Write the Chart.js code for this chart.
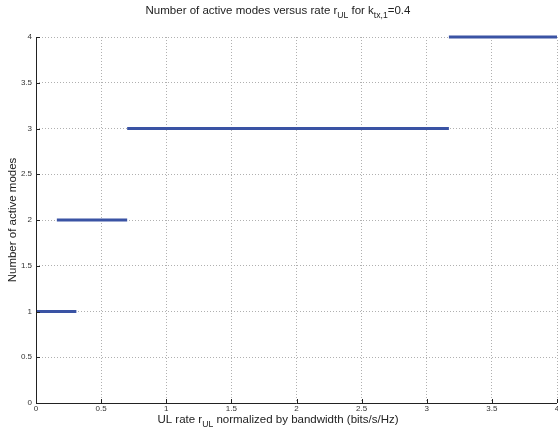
<!DOCTYPE html>
<html><head><meta charset="utf-8">
<script src="https://cdn.jsdelivr.net/npm/chart.js@4"></script>
<style>html,body{margin:0;padding:0;background:#fff}#wrap{width:558px;height:435px}</style>
</head><body><div id="wrap"><canvas id="c" width="558" height="435"></canvas></div>
<script>
// Data
const modes    = [1, 2, 3, 4];
const segStart = [0, 0.16, 0.70, 3.17];
const segEnd   = [0.31, 0.70, 3.17, 4.0];
const xTicks = ['0','0.5','1','1.5','2','2.5','3','3.5','4'];
const yTicks = ['0','0.5','1','1.5','2','2.5','3','3.5','4'];

const FONT = '"Liberation Sans", Arial, Helvetica, sans-serif';
const datasets = modes.map((m, i) => ({
  data: [{x: segStart[i], y: m}, {x: segEnd[i], y: m}],
  borderColor: '#3a53a4', borderWidth: 3, pointRadius: 0, fill: false,
  borderCapStyle: 'butt', clip: false
}));

function drawSub(ctx, parts, cx, baseline, size) {
  let total = 0;
  parts.forEach(p => { ctx.font = (p[1] ? size*0.75 : size) + 'px ' + FONT; total += ctx.measureText(p[0]).width; });
  let x = cx - total/2;
  ctx.textAlign = 'left'; ctx.textBaseline = 'alphabetic';
  parts.forEach(p => {
    ctx.font = (p[1] ? size*0.75 : size) + 'px ' + FONT;
    ctx.fillText(p[0], x, baseline + (p[1] ? 4 : 0));
    x += ctx.measureText(p[0]).width;
  });
}

const decor = {
  id: 'decor',
  afterDraw(chart) {
    const ctx = chart.ctx, a = chart.chartArea;
    const xs = chart.scales.x, ys = chart.scales.y;
    ctx.save();
    ctx.strokeStyle = '#222'; ctx.lineWidth = 1;
    ctx.beginPath();
    ctx.moveTo(a.left + 0.5, a.top); ctx.lineTo(a.left + 0.5, a.bottom + 0.5);
    ctx.lineTo(a.right, a.bottom + 0.5);
    xs.ticks.forEach(t => { const px = Math.round(xs.getPixelForValue(t.value)) + 0.5; ctx.moveTo(px, a.bottom); ctx.lineTo(px, a.bottom - 4); });
    ys.ticks.forEach(t => { const py = Math.round(ys.getPixelForValue(t.value)) + 0.5; ctx.moveTo(a.left, py); ctx.lineTo(a.left + 4, py); });
    ctx.stroke();
    ctx.fillStyle = '#222';
    const cx = 278;
    drawSub(ctx, [['Number of active modes versus rate r', false], ['UL', true], [' for k', false], ['tx,1', true], ['=0.4', false]], cx, 14, 11.5);
    drawSub(ctx, [['UL rate r', false], ['UL', true], [' normalized by bandwidth (bits/s/Hz)', false]], cx, 423, 11.5);
    ctx.restore();
  }
};

new Chart(document.getElementById('c'), {
  type: 'line',
  data: { datasets },
  options: {
    responsive: false, animation: false, devicePixelRatio: 1,
    layout: { padding: { top: 37, right: 1, left: 0, bottom: 0 } },
    plugins: { legend: { display: false }, tooltip: { enabled: false } },
    scales: {
      x: {
        type: 'linear', min: 0, max: 4,
        afterFit(s) { s.height = 32; s.paddingLeft = 0; s.paddingRight = 0; },
        afterBuildTicks(s) { s.ticks = xTicks.map(v => ({ value: parseFloat(v) })); },
        ticks: { callback: (v) => xTicks.find(t => parseFloat(t) === v) ?? '', font: { size: 8, family: FONT }, color: '#333', padding: 1, maxRotation: 0, autoSkip: false },
        grid: { color: '#b0b0b0', drawTicks: false, lineWidth: 1 },
        border: { display: false, dash: [1, 2] }
      },
      y: {
        type: 'linear', min: 0, max: 4,
        afterFit(s) { s.width = 36; s.paddingTop = 0; s.paddingBottom = 0; },
        afterBuildTicks(s) { s.ticks = yTicks.map(v => ({ value: parseFloat(v) })); },
        ticks: { callback: (v) => yTicks.find(t => parseFloat(t) === v) ?? '', font: { size: 8, family: FONT }, color: '#333', padding: 4, autoSkip: false },
        grid: { color: '#b0b0b0', drawTicks: false, lineWidth: 1 },
        border: { display: false, dash: [1, 2] },
        title: { display: true, text: 'Number of active modes', font: { size: 11.5, family: FONT }, color: '#222', padding: { top: 6, bottom: 4 } }
      }
    }
  },
  plugins: [decor]
});
</script></body></html>
